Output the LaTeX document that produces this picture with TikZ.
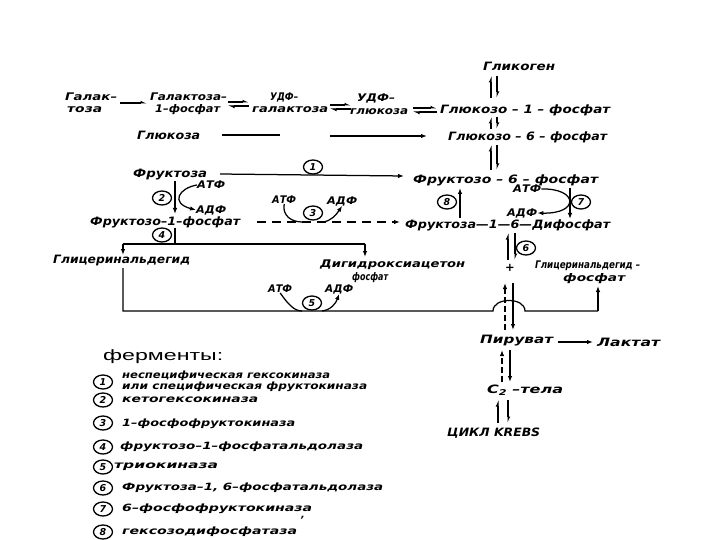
\documentclass[tikz,border=0pt]{standalone}
\usepackage{fontspec}
\usepackage{graphicx}
\setmainfont{DejaVu Sans}
\newfontfamily\hdrfont{Liberation Sans}
\usetikzlibrary{arrows.meta,shapes.geometric}
\newcommand{\fw}[2]{\resizebox{#1pt}{\height}{#2}}
\tikzset{
  lab/.style={inner sep=0pt, anchor=west, font=\fontsize{11.5}{11.5}\selectfont\bfseries\itshape},
  lab2/.style={inner sep=0pt, anchor=west, font=\fontsize{10.5}{10.5}\selectfont\bfseries\itshape},
  sml/.style={inner sep=0pt, anchor=west, font=\fontsize{10.5}{11}\selectfont\bfseries\itshape},
  leg/.style={inner sep=0pt, anchor=west, font=\fontsize{10}{10}\selectfont\bfseries\itshape},
  num/.style={draw, ellipse, line width=1.3pt, minimum width=19pt, minimum height=14pt, inner sep=0pt,
    font=\fontsize{9.5}{9.5}\selectfont\bfseries\itshape},
  ln/.style={line width=1.25pt},
  hp/.style={ln, -{Latex[length=5pt,width=5pt,harpoon]}},
  ar/.style={ln, -{Latex[length=6pt,width=4.5pt]}},
}
\begin{document}
\begin{tikzpicture}[x=1pt,y=-1pt]
\useasboundingbox[fill=white] (0,0) rectangle (720,540);

% ---------- metabolite labels ----------
\node[lab] (gly) at (483,66) {\fw{72}{Гликоген}};
\node[lab2] (gal) at (65,97) {\fw{52}{Галак–}};
\node[lab2] (galb) at (67,110) {\fw{35}{тоза}};
\node[lab2] (galp) at (150,97) {\fw{77}{Галактоза–}};
\node[lab2] (galpb) at (155,110) {\fw{65}{1–фосфат}};
\node[lab2] (udpgal) at (270,97) {\fw{28}{УДФ–}};
\node[lab2] (udpgalb) at (252,110) {\fw{76}{галактоза}};
\node[lab2] (udpglc) at (357,98) {\fw{38}{УДФ–}};
\node[lab2] (udpglcb) at (350,112) {\fw{58}{глюкоза}};
\node[lab] (g1p) at (440,110) {\fw{170}{Глюкозо – 1 – фосфат}};
\node[lab] (glc) at (137,135) {\fw{63}{Глюкоза}};
\node[lab] (g6p) at (448,137) {\fw{159}{Глюкозо – 6 – фосфат}};
\node[lab] (fru) at (133,175) {\fw{74}{Фруктоза}};
\node[lab] (f6p) at (413,180) {\fw{185}{Фруктозо – 6 – фосфат}};
\node[lab] (f1p) at (90,222) {\fw{150}{Фруктозо–1–фосфат}};
\node[lab] (f16) at (405,225) {\fw{205}{Фруктоза—1—6—Дифосфат}};
\node[lab] (ga) at (53,261) {\fw{137}{Глицеринальдегид}};
\node[lab2] (dhap) at (320,265) {\fw{145}{Дигидроксиацетон}};
\node[lab2] (dhapb) at (352,278) {\fw{36}{фосфат}};
\node[lab2] (gap) at (535,266) {\fw{105}{Глицеринальдегид –}};
\node[lab2] (gapb) at (563,279) {\fw{62}{фосфат}};
\node[lab] (plus) at (505,268) {+};
\node[lab] (pyr) at (480,341) {\fw{73}{Пируват}};
\node[lab] (lac) at (597,342) {\fw{63}{Лактат}};
\node[lab] (c2) at (487,390) {\fw{76}{C\raisebox{-2.5pt}{\fontsize{8}{8}\selectfont 2} –тела}};
\node[lab] (krebs) at (447,433) {\fw{93}{ЦИКЛ KREBS}};

% ---------- cofactors ----------
\node[sml] (atp2) at (197,185) {\fw{28}{АТФ}};
\node[sml] (adp2) at (196,210) {\fw{30}{АДФ}};
\node[sml] (atp3) at (272,200) {\fw{24}{АТФ}};
\node[sml] (adp3) at (327,201) {\fw{30}{АДФ}};
\node[sml] (atp7) at (513,189) {\fw{28}{АТФ}};
\node[sml] (adp7) at (507,213) {\fw{30}{АДФ}};
\node[sml] (atp5) at (268,289) {\fw{24}{АТФ}};
\node[sml] (adp5) at (325,289) {\fw{28}{АДФ}};

% ---------- enzyme circles ----------
\node[num] (e1) at (313,167) {1};
\node[num] (e2) at (162,198) {2};
\node[num] (e3) at (313,213) {3};
\node[num] (e4) at (162,235) {4};
\node[num] (e5) at (312,303) {5};
\node[num] (e6) at (526,248) {6};
\node[num] (e7) at (581,202) {7};
\node[num] (e8) at (447,202) {8};

% ---------- top row ----------
\draw[hp] (120,103) coordinate (ga1) -- (147,103) coordinate (ga2);
\draw[hp] (228,102) -- (249,102);
\draw[hp] (249,106) -- (228,106);
\draw[hp] (330,105) -- (351,105);
\draw[hp] (351,109) -- (330,109);
\draw[hp] (413,108) -- (437,108);
\draw[hp] (437,112) -- (413,112);

% glycogen column
\draw[hp] (491,98) -- (491,76);
\draw[hp] (497,76) -- (497,98);
\draw[hp] (491,129) -- (491,117);
\draw[hp] (497,117) -- (497,129);
\draw[hp] (491,170) -- (491,145);
\draw[hp] (497,145) -- (497,170);

% glucose -> G6P
\draw[ln] (222,135) coordinate (gl1) -- (280,135) coordinate (gl2);
\draw[ar] (330,136) coordinate (gl3) -- (427,136) coordinate (gl4);

% fructose -> F6P (enzyme 1)
\draw[ar] (220,174) coordinate (fr1) -- (404,176) coordinate (fr2);

% fructose -> F1P (enzyme 2)
\draw[ar] (175,181) coordinate (k1) -- (175,214) coordinate (k2);
\draw[ar] (atp2.west) .. controls (179,188) and (170,203) .. (adp2.west);

% F1P -> F1,6BP dashed (enzyme 3)
\draw[ar, dashed, dash pattern=on 9pt off 6pt] (257,222) coordinate (d1) -- (400,222) coordinate (d2);
\draw[ln] (atp3.south) .. controls (282,216) and (292,222) .. (302,222);
\draw[ar] (323,222) .. controls (331,221) and (336,215) .. (adp3.south);

% F6P <-> F1,6BP (enzymes 7 and 8)
\draw[ar] (460,218) coordinate (p1) -- (460,188) coordinate (p2);
\draw[ar] (570,188) coordinate (p3) -- (570,219) coordinate (p4);
\draw[ar] (atp7.east) .. controls (578,188) and (580,214) .. (adp7.east);

% F1,6BP -> trioses (enzyme 6)
\draw[hp] (508,260) -- (508,233);
\draw[hp] (515,233) -- (515,260);

% F1P cleavage (enzyme 4)
\draw[ln] (175,228) coordinate (b0) -- (175,244) coordinate (b1);
\draw[ln] (123,244) coordinate (bl) -- (365,244) coordinate (br);
\draw[ar] (bl) -- (123,255);
\draw[ar] (br) -- (365,257);

% glyceraldehyde loop (enzyme 5)
\draw[ln] (123,268) coordinate (l0) -- (123,311) coordinate (l1) -- (493,311) coordinate (l2)
   .. controls (493,297) and (525,297) .. (525,311) coordinate (l3) -- (598,311) coordinate (l4);
\draw[ar] (l4) -- (598,286) coordinate (l5);
\draw[ln] (atp5.south) .. controls (288,304) and (294,311) .. (302,311);
\draw[ar] (322,311) .. controls (331,310) and (336,303) .. (adp5.south);

% trioses -> pyruvate
\draw[ar, dashed, dash pattern=on 6pt off 3pt] (505,330) -- (505,283);
\draw[ar] (513,283) -- (513,330);
\draw[ar] (pyr.east) ++(5,1) coordinate (pl1) -- (593,342) coordinate (pl2);
\draw[ar, dashed, dash pattern=on 6pt off 3pt] (502,382) -- (502,350);
\draw[ar] (510,350) -- (510,382);
\draw[hp] (498,423) -- (498,400);
\draw[hp] (508,400) -- (508,423);

% ---------- legend ----------
\node[inner sep=0pt, anchor=west, font=\hdrfont\fontsize{15}{15}\selectfont] (fer) at (103,357) {\fw{120}{ферменты:}};
\node[num] (n1) at (103,382) {1};
\node[num] (n2) at (103,400) {2};
\node[num] (n3) at (103,423) {3};
\node[num] (n4) at (103,447) {4};
\node[num] (n5) at (103,467) {5};
\node[num] (n6) at (103,488) {6};
\node[num] (n7) at (103,509) {7};
\node[num] (n8) at (103,532) {8};
\node[leg] (t1a) at (122,376) {\fw{208}{неспецифическая гексокиназа}};
\node[leg] (t1b) at (122,387) {\fw{245}{или специфическая фруктокиназа}};
\node[leg] (t2) at (122,400) {\fw{136}{кетогексокиназа}};
\node[leg] (t3) at (122,424) {\fw{173}{1–фосфофруктокиназа}};
\node[leg] (t4) at (120,447) {\fw{243}{фруктозо–1–фосфатальдолаза}};
\node[leg] (t5) at (114,467) {\fw{104}{триокиназа}};
\node[leg] (t6) at (122,488) {\fw{261}{Фруктоза–1, 6–фосфатальдолаза}};
\node[leg] (t7) at (122,509) {\fw{190}{6–фосфофруктокиназа}};
\node[leg] (t8) at (122,532) {\fw{175}{гексозодифосфатаза}};
\node[leg] (apo) at (300,520) {’};
\end{tikzpicture}
\end{document}
